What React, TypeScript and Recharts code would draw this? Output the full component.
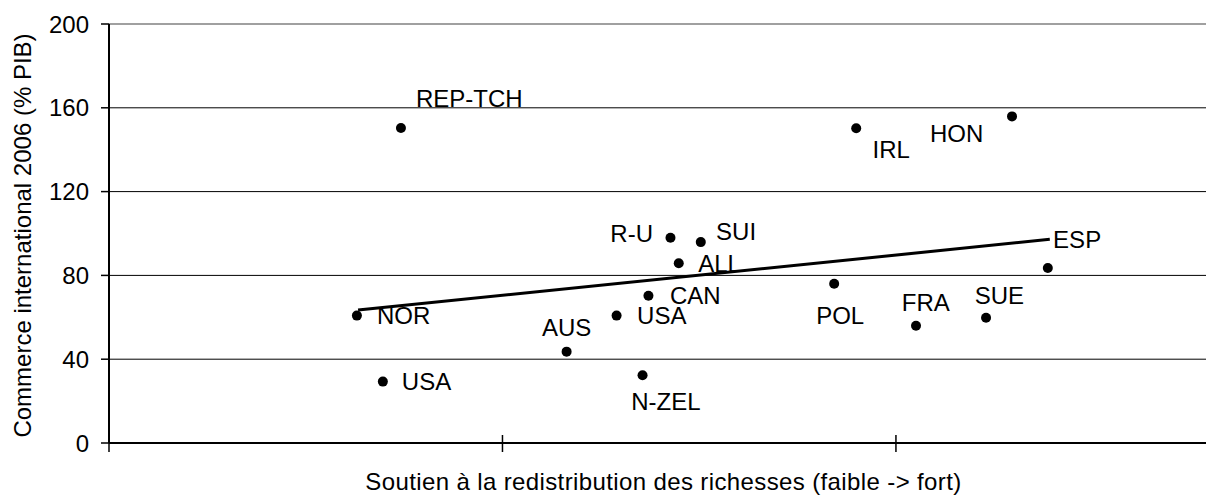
import React from 'react';
import { ScatterChart, Scatter, XAxis, YAxis, CartesianGrid } from 'recharts';

const countries = ['REP-TCH', 'NOR', 'USA', 'AUS', 'USA', 'N-ZEL', 'CAN', 'R-U', 'SUI', 'ALL', 'POL', 'IRL', 'HON', 'FRA', 'SUE', 'ESP'];
const redistribution = [0.742, 0.63, 0.696, 1.163, 1.29, 1.356, 1.371, 1.427, 1.504, 1.448, 1.843, 1.899, 2.295, 2.051, 2.229, 2.386];
const trade = [150.4, 60.8, 29.3, 43.6, 60.8, 32.3, 70.3, 98.0, 95.9, 85.8, 76.0, 150.2, 155.9, 56.0, 59.8, 83.5];

const trendX = [0.633, 2.391];
const trendY = [63.5, 97.2];

const yTicks = [0, 40, 80, 120, 160, 200];
const xTicks = [0, 1, 2];

// label placement relative to each dot: dx, dy (to text centre), anchor
const labelPlacement: [number, number, string][] = [
  [15, -29.5, 'start'],
  [20, 0, 'start'],
  [19, 0, 'start'],
  [0, -24.5, 'middle'],
  [20.5, 0, 'start'],
  [23.3, 26.4, 'middle'],
  [21.5, 0, 'start'],
  [-17.5, -4, 'end'],
  [15.3, -10.3, 'start'],
  [19.5, 0, 'start'],
  [6, 31.6, 'middle'],
  [16.4, 20.9, 'start'],
  [-28.7, 17.5, 'end'],
  [9.8, -23.2, 'middle'],
  [13.3, -22.7, 'middle'],
  [5.3, -28.5, 'start'],
];

const points = countries.map((name, i) => ({ x: redistribution[i], y: trade[i], name, i }));
const trend = trendX.map((x, i) => ({ x, y: trendY[i] }));

const FONT = "'Liberation Sans', Arial, sans-serif";

const Dot = (props: any) => {
  const { cx, cy, payload } = props;
  const [dx, dy, anchor] = labelPlacement[payload.i];
  return (
    <g>
      <circle cx={cx} cy={cy} r={5} fill="#000" />
      <text x={cx + dx} y={cy + dy + 8.5} textAnchor={anchor as any} fontSize={24} fontFamily={FONT} fill="#000">
        {payload.name}
      </text>
    </g>
  );
};

const CrossTick = (props: any) => {
  const { x, y } = props;
  return <line x1={x} x2={x} y1={y - 8} y2={y + 9} stroke="#000" strokeWidth={1.5} />;
};

// top gridline is grey, the others black
const GridLine = (props: any) => {
  const { x1, x2, y1, y2 } = props;
  const isTop = Math.abs(y1 - props.offset?.top) < 1 || y1 < 30;
  return <line x1={x1} x2={x2} y1={y1} y2={y2} stroke={isTop ? '#a0a0a0' : '#000'} strokeWidth={isTop ? 2 : 1} />;
};

const XTitle = (props: any) => {
  const vb = props.viewBox;
  return (
    <text x={vb.x + vb.width / 2 + 6} y={vb.y + 47} textAnchor="middle" fontSize={24} letterSpacing={0.38} fontFamily={FONT} fill="#000">
      Soutien à la redistribution des richesses (faible -&gt; fort)
    </text>
  );
};

const YTitle = (props: any) => {
  const vb = props.viewBox;
  const x = vb.x + 31;
  const y = vb.y + vb.height / 2 + 2;
  return (
    <text x={x} y={y} transform={`rotate(-90, ${x}, ${y})`} textAnchor="middle" fontSize={24} fontFamily={FONT} fill="#000">
      Commerce international 2006 (% PIB)
    </text>
  );
};

export default function App() {
  return (
    <div style={{ width: 1206, height: 497 }}>
      <style>{'body{margin:0;overflow:hidden}'}</style>
      <ScatterChart width={1206} height={497} margin={{ top: 24, right: 0, bottom: 0, left: 0 }}>
        <CartesianGrid horizontal={(p: any) => <GridLine {...p} />} vertical={false} />
        <XAxis
          type="number"
          dataKey="x"
          domain={[0, 2.788]}
          ticks={xTicks}
          height={54}
          tickSize={0}
          tickMargin={0}
          tickLine={false}
          tick={<CrossTick />}
          axisLine={{ stroke: '#000', strokeWidth: 2 }}
          label={{ content: <XTitle /> }}
        />
        <YAxis
          type="number"
          dataKey="y"
          domain={[0, 200]}
          ticks={yTicks}
          width={109}
          tickSize={8}
          tickMargin={12}
          tickLine={{ stroke: '#000', strokeWidth: 1.5 }}
          axisLine={{ stroke: '#000', strokeWidth: 2 }}
          tick={{ fill: '#000', fontSize: 24, fontFamily: FONT }}
          label={{ content: <YTitle /> }}
        />
        <Scatter data={trend} line={{ stroke: '#000', strokeWidth: 3 }} shape={() => <g />} isAnimationActive={false} />
        <Scatter data={points} shape={<Dot />} isAnimationActive={false} />
      </ScatterChart>
    </div>
  );
}
